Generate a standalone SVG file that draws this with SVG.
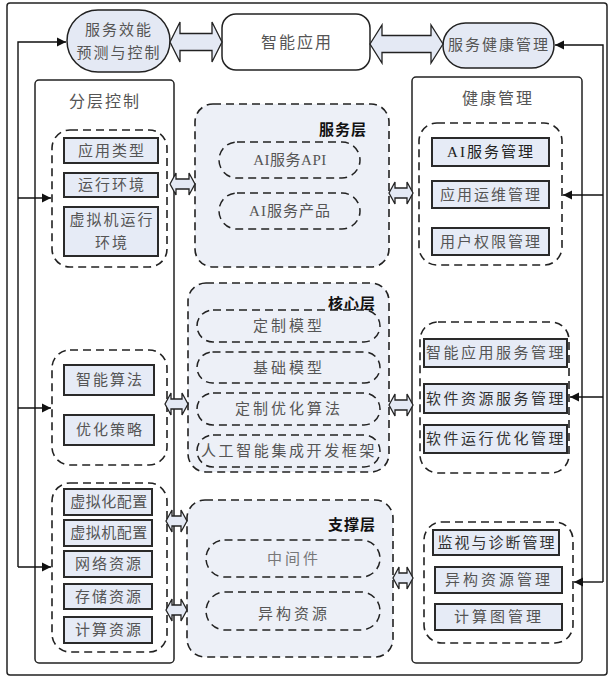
<svg xmlns="http://www.w3.org/2000/svg" width="611" height="678" viewBox="0 0 611 678">
<style>
.frame{fill:#fff;stroke:#222;stroke-width:1.5}
.col{fill:#fff;stroke:#222;stroke-width:1.5}
.grp{fill:none;stroke:#222;stroke-width:1.6;stroke-dasharray:8 5}
.layer{fill:#edf0f7;stroke:#222;stroke-width:1.6;stroke-dasharray:8 5}
.pd{fill:#edf0f7;stroke:#222;stroke-width:1.5;stroke-dasharray:8 5}
.box{fill:#e6ebf6;stroke:#2a2a2a;stroke-width:2}
.blk{fill:#e4e9f4;stroke:#222;stroke-width:1.5}
.wb{fill:#fff;stroke:#222;stroke-width:1.5}
.da{fill:#e4e9f4;stroke:#222;stroke-width:1.3;stroke-linejoin:miter}
.ln{fill:none;stroke:#111;stroke-width:1.4}
.t{font-family:"Liberation Serif","Noto Sans CJK SC",serif;font-size:15px;fill:#555;text-anchor:middle;dominant-baseline:central;letter-spacing:2px}
.ti{font-family:"Liberation Serif","Noto Sans CJK SC",serif;font-size:16px;fill:#555;text-anchor:middle;dominant-baseline:central;letter-spacing:2px}
.lt{font-family:"Noto Sans CJK SC",sans-serif;font-size:15px;font-weight:bold;fill:#111;text-anchor:middle;dominant-baseline:central;letter-spacing:1px}
</style>
<defs>
<marker id="ah" markerUnits="userSpaceOnUse" markerWidth="10" markerHeight="10" refX="9" refY="5" orient="auto">
<path d="M0,0.5 L9,5 L0,9.5 Z" fill="#111"/>
</marker>
</defs>

<rect class="frame" x="7" y="3" width="600" height="672" rx="3"/>

<g id="top-predict">
<rect class="blk" x="67" y="10" width="103" height="62" rx="31"/>
<text class="t" x="119" y="30">服务效能</text>
<text class="t" x="119" y="53">预测与控制</text>
</g>
<g id="top-app">
<rect class="wb" x="222" y="14" width="148" height="56" rx="14"/>
<text class="ti" x="297" y="42">智能应用</text>
</g>
<g id="top-health">
<rect class="blk" x="443" y="23" width="111" height="45" rx="22.5"/>
<text class="t" x="499" y="45">服务健康管理</text>
</g>

<g id="col-left">
<rect class="col" x="35" y="80" width="139" height="583" rx="4"/>
<text class="ti" x="105" y="101">分层控制</text>
</g>
<g id="left-g1">
<rect class="grp" x="52" y="130" width="115" height="137" rx="18"/>
<rect class="box" x="64" y="138" width="94" height="25"/>
<text class="t" x="112" y="150.5">应用类型</text>
<rect class="box" x="64" y="173" width="94" height="24"/>
<text class="t" x="112" y="185">运行环境</text>
<rect class="box" x="64" y="207" width="94" height="49"/>
<text class="t" x="112" y="220">虚拟机运行</text>
<text class="t" x="112" y="243">环境</text>
</g>
<g id="left-g2">
<rect class="grp" x="52" y="350" width="115" height="115" rx="18"/>
<rect class="box" x="64" y="365" width="90" height="30"/>
<text class="t" x="110" y="380">智能算法</text>
<rect class="box" x="64" y="415" width="90" height="30"/>
<text class="t" x="110" y="430">优化策略</text>
</g>
<g id="left-g3">
<rect class="grp" x="52" y="483" width="115" height="169" rx="18"/>
<rect class="box" x="64" y="489" width="88" height="26"/>
<text class="t" x="109" y="502" style="letter-spacing:0.5px">虚拟化配置</text>
<rect class="box" x="64" y="520" width="88" height="26"/>
<text class="t" x="109" y="533" style="letter-spacing:0.5px">虚拟机配置</text>
<rect class="box" x="64" y="551" width="88" height="26"/>
<text class="t" x="109" y="564">网络资源</text>
<rect class="box" x="64" y="584" width="88" height="25"/>
<text class="t" x="109" y="596.5">存储资源</text>
<rect class="box" x="64" y="617" width="88" height="26"/>
<text class="t" x="109" y="630">计算资源</text>
</g>

<g id="layer-service">
<rect class="layer" x="195" y="104" width="194" height="163" rx="18"/>
<text class="lt" x="343" y="128">服务层</text>
<rect class="pd" x="219" y="142" width="141" height="36" rx="18"/>
<text class="t" x="290" y="160" style="letter-spacing:0.5px">AI服务API</text>
<rect class="pd" x="219" y="193" width="141" height="36" rx="18"/>
<text class="t" x="290" y="211" style="letter-spacing:1px">AI服务产品</text>
</g>
<g id="layer-core">
<rect class="layer" x="188" y="283" width="201" height="189" rx="18"/>
<text class="lt" x="352" y="302">核心层</text>
<rect class="pd" x="197" y="310" width="183" height="32" rx="16"/>
<text class="t" x="289" y="326" style="letter-spacing:3px">定制模型</text>
<rect class="pd" x="197" y="352" width="183" height="31" rx="15.5"/>
<text class="t" x="289" y="367.5" style="letter-spacing:3px">基础模型</text>
<rect class="pd" x="197" y="393" width="183" height="32" rx="16"/>
<text class="t" x="289" y="409" style="letter-spacing:3px">定制优化算法</text>
<rect class="pd" x="197" y="435" width="183" height="32" rx="16"/>
<text class="t" x="289" y="451" style="letter-spacing:2.6px">人工智能集成开发框架</text>
</g>
<g id="layer-support">
<rect class="layer" x="187" y="500" width="206" height="157" rx="18"/>
<text class="lt" x="352" y="523">支撑层</text>
<rect class="pd" x="206" y="540" width="174" height="37" rx="18.5"/>
<text class="t" x="294" y="559" style="fill:#777;letter-spacing:3px">中间件</text>
<rect class="pd" x="206" y="592" width="174" height="38" rx="19"/>
<text class="t" x="294" y="614" style="letter-spacing:3px">异构资源</text>
</g>

<g id="col-right">
<rect class="col" x="412" y="77" width="170" height="586" rx="4"/>
<text class="ti" x="498" y="98">健康管理</text>
</g>
<g id="right-g1">
<rect class="grp" x="419" y="123" width="143" height="142" rx="18"/>
<rect class="box" x="432" y="138" width="117" height="28"/>
<text class="t" x="491" y="152" style="fill:#222">AI服务管理</text>
<rect class="box" x="432" y="181" width="117" height="27"/>
<text class="t" x="491" y="194.5">应用运维管理</text>
<rect class="box" x="432" y="228" width="117" height="27"/>
<text class="t" x="491" y="241.5">用户权限管理</text>
</g>
<g id="right-g2">
<rect class="grp" x="420" y="322" width="149" height="151" rx="18"/>
<rect class="box" x="424" y="339" width="143" height="28"/>
<text class="t" x="496" y="353" style="letter-spacing:2.5px">智能应用服务管理</text>
<rect class="box" x="424" y="384" width="143" height="29"/>
<text class="t" x="496" y="398.5" style="letter-spacing:2.5px;fill:#333">软件资源服务管理</text>
<rect class="box" x="424" y="425" width="143" height="28"/>
<text class="t" x="496" y="439" style="letter-spacing:2.5px;fill:#333">软件运行优化管理</text>
</g>
<g id="right-g3">
<rect class="grp" x="424" y="522" width="149" height="121" rx="18"/>
<rect class="box" x="433" y="530" width="126" height="25"/>
<text class="t" x="497" y="542.5" style="fill:#333">监视与诊断管理</text>
<rect class="box" x="435" y="567" width="127" height="26"/>
<text class="t" x="499" y="580" style="letter-spacing:3px">异构资源管理</text>
<rect class="box" x="435" y="604" width="127" height="26"/>
<text class="t" x="499" y="617" style="letter-spacing:3px">计算图管理</text>
</g>

<g id="connectors">
<path class="da" d="M170,42 L180,22 L180,33.5 L212,33.5 L212,22 L222,42 L212,62 L212,50.5 L180,50.5 L180,62 Z"/>
<path class="da" d="M370,44 L382,25 L382,35.5 L431,35.5 L431,25 L443,44 L431,63 L431,52.5 L382,52.5 L382,63 Z"/>
<path class="da" d="M170,184 L176,173 L176,179 L189,179 L189,173 L195,184 L189,195 L189,189 L176,189 L176,195 Z"/>
<path class="da" d="M389,193 L395,182 L395,188 L407,188 L407,182 L413,193 L407,204 L407,198 L395,198 L395,204 Z"/>
<path class="da" d="M165,404 L171,393 L171,399 L182,399 L182,393 L188,404 L182,415 L182,409 L171,409 L171,415 Z"/>
<path class="da" d="M389,405 L395,394 L395,400 L407,400 L407,394 L413,405 L407,416 L407,410 L395,410 L395,416 Z"/>
<path class="da" d="M166,521 L172,510 L172,516 L181,516 L181,510 L187,521 L181,532 L181,526 L172,526 L172,532 Z"/>
<path class="da" d="M166,610 L172,599 L172,605 L181,605 L181,599 L187,610 L181,621 L181,615 L172,615 L172,621 Z"/>
<path class="da" d="M393,578 L399,567 L399,573 L407,573 L407,567 L413,578 L407,589 L407,583 L399,583 L399,589 Z"/>

<path class="ln" d="M18,567 L18,42 L66,42" marker-end="url(#ah)"/>
<path class="ln" d="M18,198 L51,198" marker-end="url(#ah)"/>
<path class="ln" d="M18,408 L51,408" marker-end="url(#ah)"/>
<path class="ln" d="M18,567 L51,567" marker-end="url(#ah)"/>

<path class="ln" d="M603,582 L603,45 L555,45" marker-end="url(#ah)"/>
<path class="ln" d="M603,195 L563,195" marker-end="url(#ah)"/>
<path class="ln" d="M603,397 L570,397" marker-end="url(#ah)"/>
<path class="ln" d="M603,582 L574,582" marker-end="url(#ah)"/>
</g>
</svg>
